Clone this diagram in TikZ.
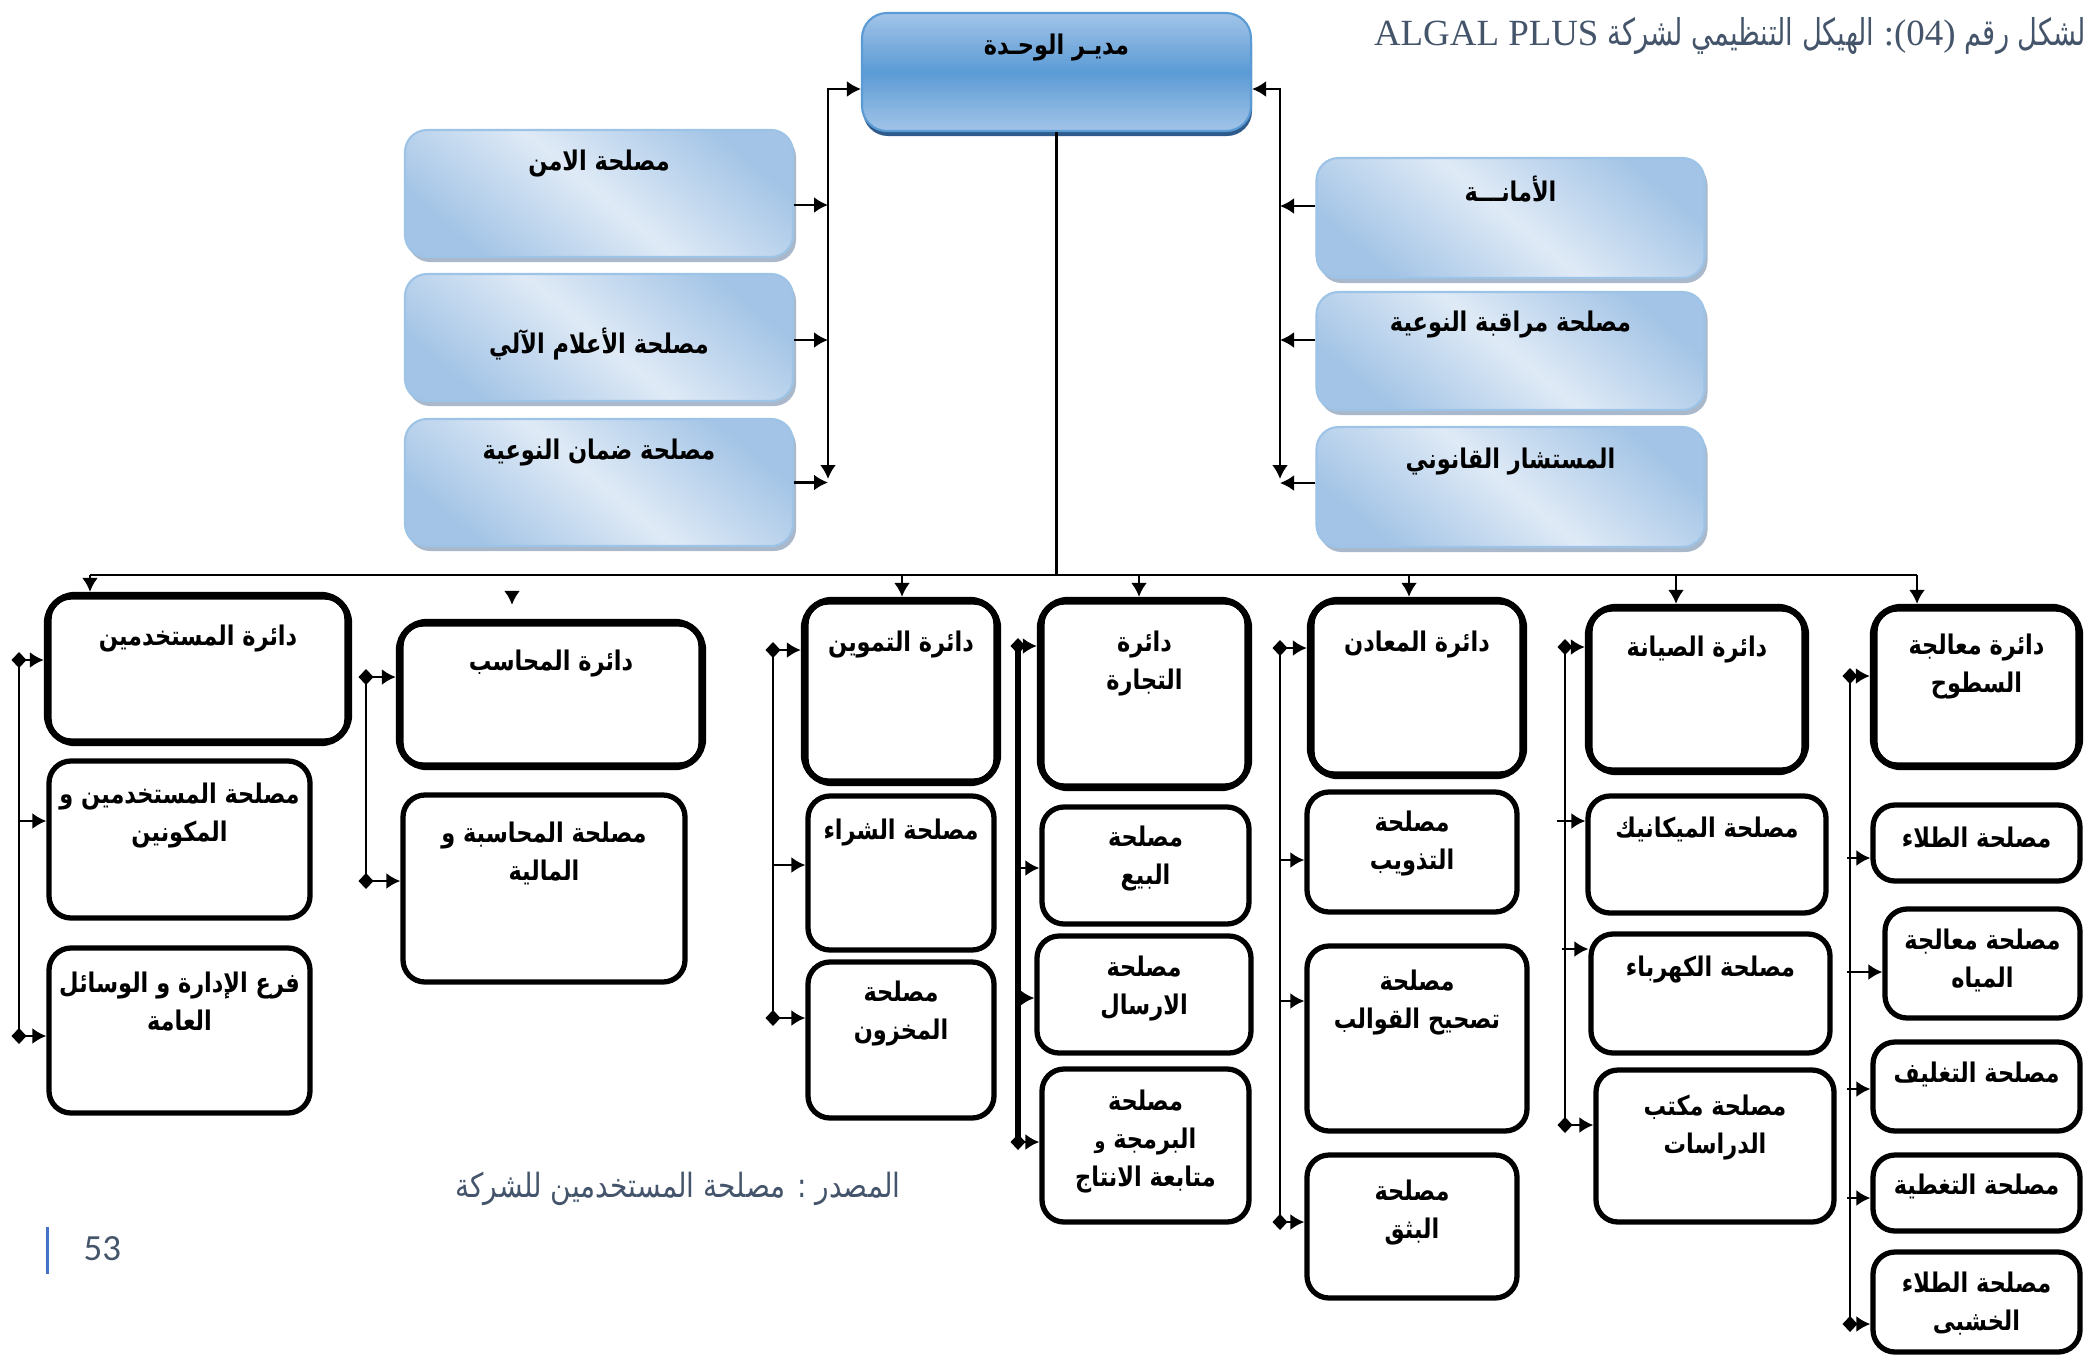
\documentclass[tikz,border=0pt]{standalone}
\usepackage{graphicx}
\usepackage{fontspec}
\setmainfont{Liberation Serif}
\newfontfamily\arabicfont[Script=Arabic]{DejaVu Sans}
\newfontfamily\pagefont{Carlito}
\TeXXeTstate=1
\usetikzlibrary{positioning,arrows.meta,shadows}

\definecolor{titlecol}{HTML}{44546A}
\definecolor{mgrlight}{HTML}{A2C4E8}
\definecolor{mgrmid}{HTML}{5B9BD5}
\definecolor{mgrshadow}{HTML}{2F5A8C}
\definecolor{sidedark}{HTML}{A3C4E6}
\definecolor{sidelight}{HTML}{DFEAF6}
\definecolor{sideline}{HTML}{9DC3E6}
\definecolor{sideshadow}{HTML}{A9B8CA}
\definecolor{barblue}{HTML}{4472C4}

\newcommand{\rtxt}[1]{\scalebox{0.83}[1]{\beginR #1\endR}}
\newcommand{\rtitle}[1]{\scalebox{0.74}[1]{\arabicfont\beginR #1\endR}}

\tikzset{
    mgrbox/.style={rectangle, rounded corners=0.25cm, draw=mgrmid, line width=0.6pt,
        top color=mgrlight, bottom color=mgrlight, middle color=mgrmid,
        drop shadow={shadow xshift=0.01cm, shadow yshift=-0.05cm, fill=mgrshadow, opacity=1}},
    sidebox/.style={rectangle, rounded corners=0.22cm, draw=sideline, line width=0.6pt,
        top color=sidedark, bottom color=sidedark, middle color=sidelight, shading angle=-40,
        drop shadow={shadow xshift=0.03cm, shadow yshift=-0.05cm, fill=sideshadow, opacity=1},
        minimum width=3.88cm},
    deptbox/.style={rectangle, rounded corners=0.28cm, draw, line width=1.8pt},
    unitbox/.style={rectangle, rounded corners=0.22cm, draw, line width=1.5pt},
    innerline/.style={line width=0.5pt, rounded corners=0.2cm},
    txt/.style={font=\arabicfont\bfseries\fontsize{7.7}{10.8}\selectfont, align=center, inner sep=0pt},
    arr/.style={-{Latex[length=0.14cm,width=0.16cm]}, line width=0.7pt},
    arrboth/.style={{Latex[length=0.14cm,width=0.16cm]}-{Latex[length=0.14cm,width=0.16cm]}, line width=0.7pt},
    dia/.style={{Diamond[length=0.15cm,width=0.16cm]}-{Latex[length=0.14cm,width=0.16cm]}, line width=0.7pt},
    bus/.style={line width=0.7pt}
}

\begin{document}
\begin{tikzpicture}
    \useasboundingbox[fill=white] (0,0) rectangle (20.87,-13.59);

    % title
    \node[anchor=east, text=titlecol, inner sep=0pt] (title) at (20.87,-0.36)
        {\fontsize{10.5}{12}\selectfont ALGAL PLUS \rtitle{الهيكل التنظيمي لشركة} :(04) \rtitle{لشكل رقم}};

    % manager and staff boxes
    \node[mgrbox, minimum width=3.89cm, minimum height=1.18cm] (mgr) at (10.565,-0.72) {};
    \node[txt] (mgrt) at ([yshift=-0.36cm]mgr.north) {\rtxt{مديـر الوحـدة}};

    \foreach \n/\x/\y/\h in {sA/5.99/1.935/1.27, sB/5.99/3.375/1.27, sC/5.99/4.825/1.27,
                             rA/15.105/2.18/1.20, rB/15.105/3.51/1.18, rC/15.105/4.87/1.20}
        \node[sidebox, minimum height=\h cm] (\n) at (\x,-\y) {};

    \node[txt] (sAt) at ([yshift=-0.35cm]sA.north) {\rtxt{مصلحة الامن}};
    \node[txt] (sBt) at ([yshift=-0.71cm]sB.north) {\rtxt{مصلحة الأعلام الآلي}};
    \node[txt] (sCt) at ([yshift=-0.35cm]sC.north) {\rtxt{مصلحة ضمان النوعية}};
    \node[txt] (rAt) at ([yshift=-0.32cm]rA.north) {\rtxt{الأمانـــة}};
    \node[txt] (rBt) at ([yshift=-0.34cm]rB.north) {\rtxt{مصلحة مراقبة النوعية}};
    \node[txt] (rCt) at ([yshift=-0.36cm]rC.north) {\rtxt{المستشار القانوني}};

    \coordinate (lend) at (8.28,-4.79);
    \coordinate (rend) at (12.80,-4.79);
    \draw[arrboth] ([yshift=-0.17cm]mgr.west) -| (lend);
    \draw[arrboth] ([yshift=-0.17cm]mgr.east) -| (rend);
    \draw[arr] ([yshift=-0.115cm]sA.east) -- ([yshift=-0.115cm]sA.east -| lend);
    \draw[arr] ([yshift=-0.025cm]sB.east) -- ([yshift=-0.025cm]sB.east -| lend);
    \draw[arr] (sC.east) -- (sC.east -| lend);
    \draw[arr] ([yshift=0.12cm]rA.west) -- ([yshift=0.12cm]rA.west -| rend);
    \draw[arr] ([yshift=0.11cm]rB.west) -- ([yshift=0.11cm]rB.west -| rend);
    \draw[arr] ([yshift=0.04cm]rC.west) -- ([yshift=0.04cm]rC.west -| rend);

    % departments
    \foreach \n/\x/\y/\w/\h in {d1/1.98/6.69/3.02/1.48, d2/5.51/6.945/3.04/1.45,
                                d3/9.01/6.915/1.94/1.83, d4/11.445/6.94/2.09/1.88,
                                d5/14.17/6.88/2.14/1.76, d6/16.97/6.895/2.18/1.65,
                                d7/19.765/6.87/2.07/1.60} {
        \node[deptbox, minimum width=\w cm, minimum height=\h cm] (\n) at (\x,-\y) {};
        \draw[innerline] ([shift={(0.07,-0.07)}]\n.north west) rectangle ([shift={(-0.07,0.07)}]\n.south east);
    }

    % services
    \foreach \n/\x/\y/\w/\h in {s11/1.795/8.395/2.61/1.57, s12/1.795/10.305/2.61/1.65,
                                s21/5.44/8.885/2.82/1.87,
                                s31/9.01/8.73/1.86/1.54, s32/9.01/10.40/1.86/1.56,
                                s41/11.455/8.655/2.07/1.17, s42/11.44/9.945/2.14/1.17, s43/11.455/11.455/2.07/1.53,
                                s51/14.12/8.52/2.10/1.20, s52/14.17/10.385/2.20/1.85, s53/14.12/12.265/2.10/1.43,
                                s61/17.07/8.545/2.38/1.17, s62/17.105/9.935/2.39/1.19, s63/17.15/11.46/2.38/1.52,
                                s71/19.765/8.43/2.07/0.76, s72/19.825/9.635/1.95/1.09, s73/19.765/10.865/2.07/0.89,
                                s74/19.765/11.93/2.07/0.76, s75/19.765/13.02/2.07/1.00}
        \node[unitbox, minimum width=\w cm, minimum height=\h cm] (\n) at (\x,-\y) {};

    \node[txt] (d1t) at ([yshift=-0.47cm]d1.north) {\rtxt{دائرة المستخدمين}};
    \node[txt] (d2t) at ([yshift=-0.45cm]d2.north) {\rtxt{دائرة المحاسب}};
    \node[txt] (d3t) at ([yshift=-0.48cm]d3.north) {\rtxt{دائرة التموين}};
    \node[txt] (d4t) at ([yshift=-0.67cm]d4.north) {\rtxt{دائرة}\\\rtxt{التجارة}};
    \node[txt] (d5t) at ([yshift=-0.48cm]d5.north) {\rtxt{دائرة المعادن}};
    \node[txt] (d6t) at ([yshift=-0.46cm]d6.north) {\rtxt{دائرة الصيانة}};
    \node[txt] (d7t) at ([yshift=-0.63cm]d7.north) {\rtxt{دائرة معالجة}\\\rtxt{السطوح}};

    \node[txt] (s11t) at ([yshift=-0.57cm]s11.north) {\rtxt{مصلحة المستخدمين و}\\\rtxt{المكونين}};
    \node[txt] (s12t) at ([yshift=-0.56cm]s12.north) {\rtxt{فرع الإدارة و الوسائل}\\\rtxt{العامة}};
    \node[txt] (s21t) at ([yshift=-0.61cm]s21.north) {\rtxt{مصلحة المحاسبة و}\\\rtxt{المالية}};
    \node[txt] (s31t) at ([yshift=-0.39cm]s31.north) {\rtxt{مصلحة الشراء}};
    \node[txt] (s32t) at ([yshift=-0.54cm]s32.north) {\rtxt{مصلحة}\\\rtxt{المخزون}};
    \node[txt] (s41t) at ([yshift=-0.54cm]s41.north) {\rtxt{مصلحة}\\\rtxt{البيع}};
    \node[txt] (s42t) at ([yshift=-0.55cm]s42.north) {\rtxt{مصلحة}\\\rtxt{الارسال}};
    \node[txt] (s43t) at ([yshift=-0.75cm]s43.north) {\rtxt{مصلحة}\\\rtxt{البرمجة {\fontsize{6}{8}\selectfont و}}\\\rtxt{متابعة الانتاج}};
    \node[txt] (s51t) at ([yshift=-0.54cm]s51.north) {\rtxt{مصلحة}\\\rtxt{التذويب}};
    \node[txt] (s52t) at ([yshift=-0.59cm]s52.north) {\rtxt{مصلحة}\\\rtxt{تصحيح القوالب}};
    \node[txt] (s53t) at ([yshift=-0.60cm]s53.north) {\rtxt{مصلحة}\\\rtxt{البثق}};
    \node[txt] (s61t) at ([yshift=-0.36cm]s61.north) {\rtxt{مصلحة الميكانيك}};
    \node[txt] (s62t) at ([yshift=-0.38cm]s62.north) {\rtxt{مصلحة الكهرباء}};
    \node[txt] (s63t) at ([yshift=-0.60cm]s63.north) {\rtxt{مصلحة مكتب}\\\rtxt{الدراسات}};
    \node[txt] (s71t) at ([yshift=-0.35cm]s71.north) {\rtxt{مصلحة الطلاء}};
    \node[txt] (s72t) at ([yshift=-0.54cm]s72.north) {\rtxt{مصلحة معالجة}\\\rtxt{المياه}};
    \node[txt] (s73t) at ([yshift=-0.35cm]s73.north) {\rtxt{مصلحة التغليف}};
    \node[txt] (s74t) at ([yshift=-0.34cm]s74.north) {\rtxt{مصلحة التغطية}};
    \node[txt] (s75t) at ([yshift=-0.54cm]s75.north) {\rtxt{مصلحة الطلاء}\\\rtxt{الخشبى}};

    % main bus
    \foreach \b/\x in {b1/0.90, b2/5.12, b3/9.02, b4/11.39, b5/14.09, b6/16.76, b7/19.17}
        \coordinate (\b) at (\x,-5.75);
    \draw[bus] (mgr.south) -- (mgr.south |- b1);
    \draw[bus] (b1) -- (b7);
    \foreach \b/\n in {b1/d1, b3/d3, b4/d4, b5/d5, b6/d6, b7/d7}
        \draw[arr] (\b) -- (\b |- \n.north);
    \draw[arr] ([yshift=-0.16cm]b2) -- ([yshift=0.14cm]b2 |- d2.north);

    % column feeders
    \foreach \c/\x in {c1/0.19, c2/3.66, c3/7.73, c4/10.18, c5/12.80, c6/15.65, c7/18.50}
        \coordinate (\c) at (\x,0);
    \foreach \c/\ya/\yb in {c1/6.60/10.36, c2/6.77/8.81, c3/6.50/10.18, c5/6.48/12.22,
                            c6/6.47/11.25, c7/6.76/13.24}
        \draw[bus] (\c |- 0,-\ya) -- (\c |- 0,-\yb);
    \draw[line width=1.5pt] (c4 |- 0,-6.46) -- (c4 |- 0,-11.42);

    \foreach \c/\n/\y in {c1/d1/6.60, c1/s12/10.36, c2/d2/6.77, c2/s21/8.81,
                          c3/d3/6.50, c3/s32/10.18, c4/d4/6.46, c4/s43/11.42,
                          c5/d5/6.48, c5/s53/12.22, c6/d6/6.47, c6/s63/11.25,
                          c7/d7/6.76, c7/s75/13.24}
        \draw[dia] ([xshift=-0.075cm]\c |- 0,-\y) -- (\n.west |- 0,-\y);
    \foreach \c/\n/\y/\dx in {c1/s11/8.21/0, c3/s31/8.65/0, c4/s41/8.68/0, c4/s42/9.98/0,
                              c5/s51/8.60/0, c5/s52/10.01/0, c6/s61/8.21/0.08, c6/s62/9.49/0.03,
                              c7/s71/8.58/0.03, c7/s72/9.72/0.03, c7/s73/10.89/0.03, c7/s74/11.98/0.03}
        \draw[arr] ([xshift=-\dx cm]\c |- 0,-\y) -- (\n.west |- 0,-\y);

    % source and page number
    \node[text=titlecol, inner sep=0pt, font=\arabicfont\fontsize{9.5}{12}\selectfont] (src) at (6.78,-11.89)
        {\scalebox{0.84}[1]{\beginR المصدر : مصلحة المستخدمين للشركة\endR}};
    \node[fill=barblue, inner sep=0pt, minimum width=0.03cm, minimum height=0.47cm] (pbar) at (0.47,-12.505) {};
    \node[text=titlecol, font=\pagefont\fontsize{10.5}{13}\selectfont, anchor=west, inner sep=0pt] (pnum) at (0.83,-12.49) {53};
\end{tikzpicture}
\end{document}
